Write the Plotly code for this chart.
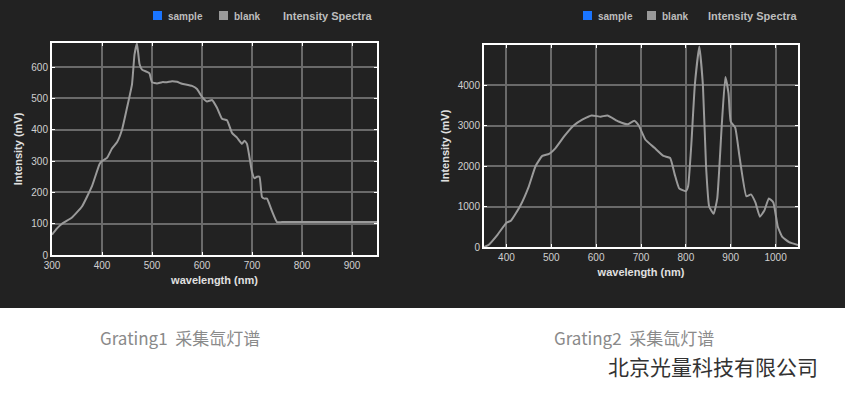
import plotly.graph_objects as go

g1_x = [300,310,320,340,360,380,395,400,410,420,430,440,450,460,465,470,475,480,490,495,500,510,520,530,540,550,560,580,590,600,610,620,630,640,650,660,670,680,685,690,700,705,710,715,720,725,730,740,750,760,850,950]
g1_y = [65,85,100,120,155,220,290,300,310,340,360,400,470,545,640,675,610,592,585,580,552,548,552,552,555,553,547,540,530,505,490,495,470,435,430,390,375,355,365,355,265,245,250,250,185,180,180,140,105,105,105,105]

g2_x = [350,360,380,400,410,430,450,465,480,495,510,530,550,570,590,610,625,650,670,685,695,710,730,750,765,775,785,800,805,812,820,830,838,845,852,862,870,880,888,895,900,910,920,935,945,955,965,975,985,995,1005,1015,1030,1050]
g2_y = [0,50,300,600,650,1000,1500,2000,2250,2300,2450,2750,3000,3150,3250,3220,3250,3100,3030,3120,3000,2650,2450,2250,2200,1800,1450,1380,1500,2500,4000,4950,4000,2000,1000,820,1200,3000,4200,3800,3100,2950,2200,1250,1300,1100,750,900,1200,1100,500,250,120,50]

W, H = 845, 402
BG = "#222222"
fig = go.Figure()
line = dict(color="#9a9a9a", width=2, shape="spline", smoothing=0.4)
fig.add_trace(go.Scatter(x=g1_x, y=g1_y, mode="lines", line=line, xaxis="x", yaxis="y", showlegend=False))
fig.add_trace(go.Scatter(x=g2_x, y=g2_y, mode="lines", line=line, xaxis="x2", yaxis="y2", showlegend=False))

ax = dict(showline=True, linecolor="white", linewidth=2, mirror="ticks", ticks="inside", tickcolor="white",
          ticklen=3, gridcolor="#6a6a6a", gridwidth=1.5, zeroline=False, automargin=False,
          tickfont=dict(family="Arial, Liberation Sans", size=10, color="#d0d0d0"),
          title_font=dict(family="Arial, Liberation Sans", size=11, color="#e0e0e0"))
fig.update_layout(
    width=W, height=H, margin=dict(l=0, r=0, t=0, b=0, autoexpand=False), paper_bgcolor="white", plot_bgcolor=BG,
    xaxis=dict(ax, domain=[52/W, 377/W], range=[300, 950], dtick=100, anchor="y",
               title=dict(text="<b>wavelength (nm)</b>", standoff=6)),
    yaxis=dict(ax, domain=[1-255/H, 1-43/H], range=[0, 677], dtick=100, anchor="x",
               title=dict(text="<b>Intensity (mV)</b>", standoff=6)),
    xaxis2=dict(ax, domain=[484/W, 798/W], range=[350, 1050], dtick=100, anchor="y2",
                title=dict(text="<b>wavelength (nm)</b>", standoff=6)),
    yaxis2=dict(ax, domain=[1-247/H, 1-45/H], range=[0, 4990], dtick=1000, anchor="x2",
                title=dict(text="<b>Intensity (mV)</b>", standoff=6)),
)
fig.add_shape(type="rect", xref="paper", yref="paper", x0=0, x1=1, y0=1-308/H, y1=1,
              fillcolor=BG, line_width=0, layer="below")

def px(x, y):
    return x/W, 1-y/H

anns = []
def ann(x, y, text, size, color, family="Arial, Liberation Sans"):
    X, Y = px(x, y)
    anns.append(dict(x=X, y=Y, xref="paper", yref="paper", text=text, xanchor="left", yanchor="middle",
                     showarrow=False, font=dict(family=family, size=size, color=color)))

for (sx, bx, tx) in [(153, 219, 281), (583, 647, 706)]:
    for (xx, col) in [(sx, "#1a75ff"), (bx, "#999999")]:
        x0, y0 = px(xx, 11); x1, y1 = px(xx+9, 20)
        fig.add_shape(type="rect", xref="paper", yref="paper", x0=x0, x1=x1, y0=y1, y1=y0, fillcolor=col, line_width=0)
    ann(sx+13, 17, "<b>sample</b>", 10, "#bdbdbd")
    ann(bx+13, 17, "<b>blank</b>", 10, "#bdbdbd")
    ann(tx, 16, "<b>Intensity Spectra</b>", 11, "#bdbdbd")
ann(98, 337, "Grating1  采集氙灯谱", 17, "#8a8a8a", "Noto Sans CJK SC")
ann(552, 337, "Grating2  采集氙灯谱", 17, "#8a8a8a", "Noto Sans CJK SC")
ann(606, 366, "北京光量科技有限公司", 21, "#333333", "Noto Sans CJK SC")
fig.update_layout(annotations=anns)
fig.write_html("out.html", config={"displayModeBar": False},
               post_script="document.body.style.margin='0';")
